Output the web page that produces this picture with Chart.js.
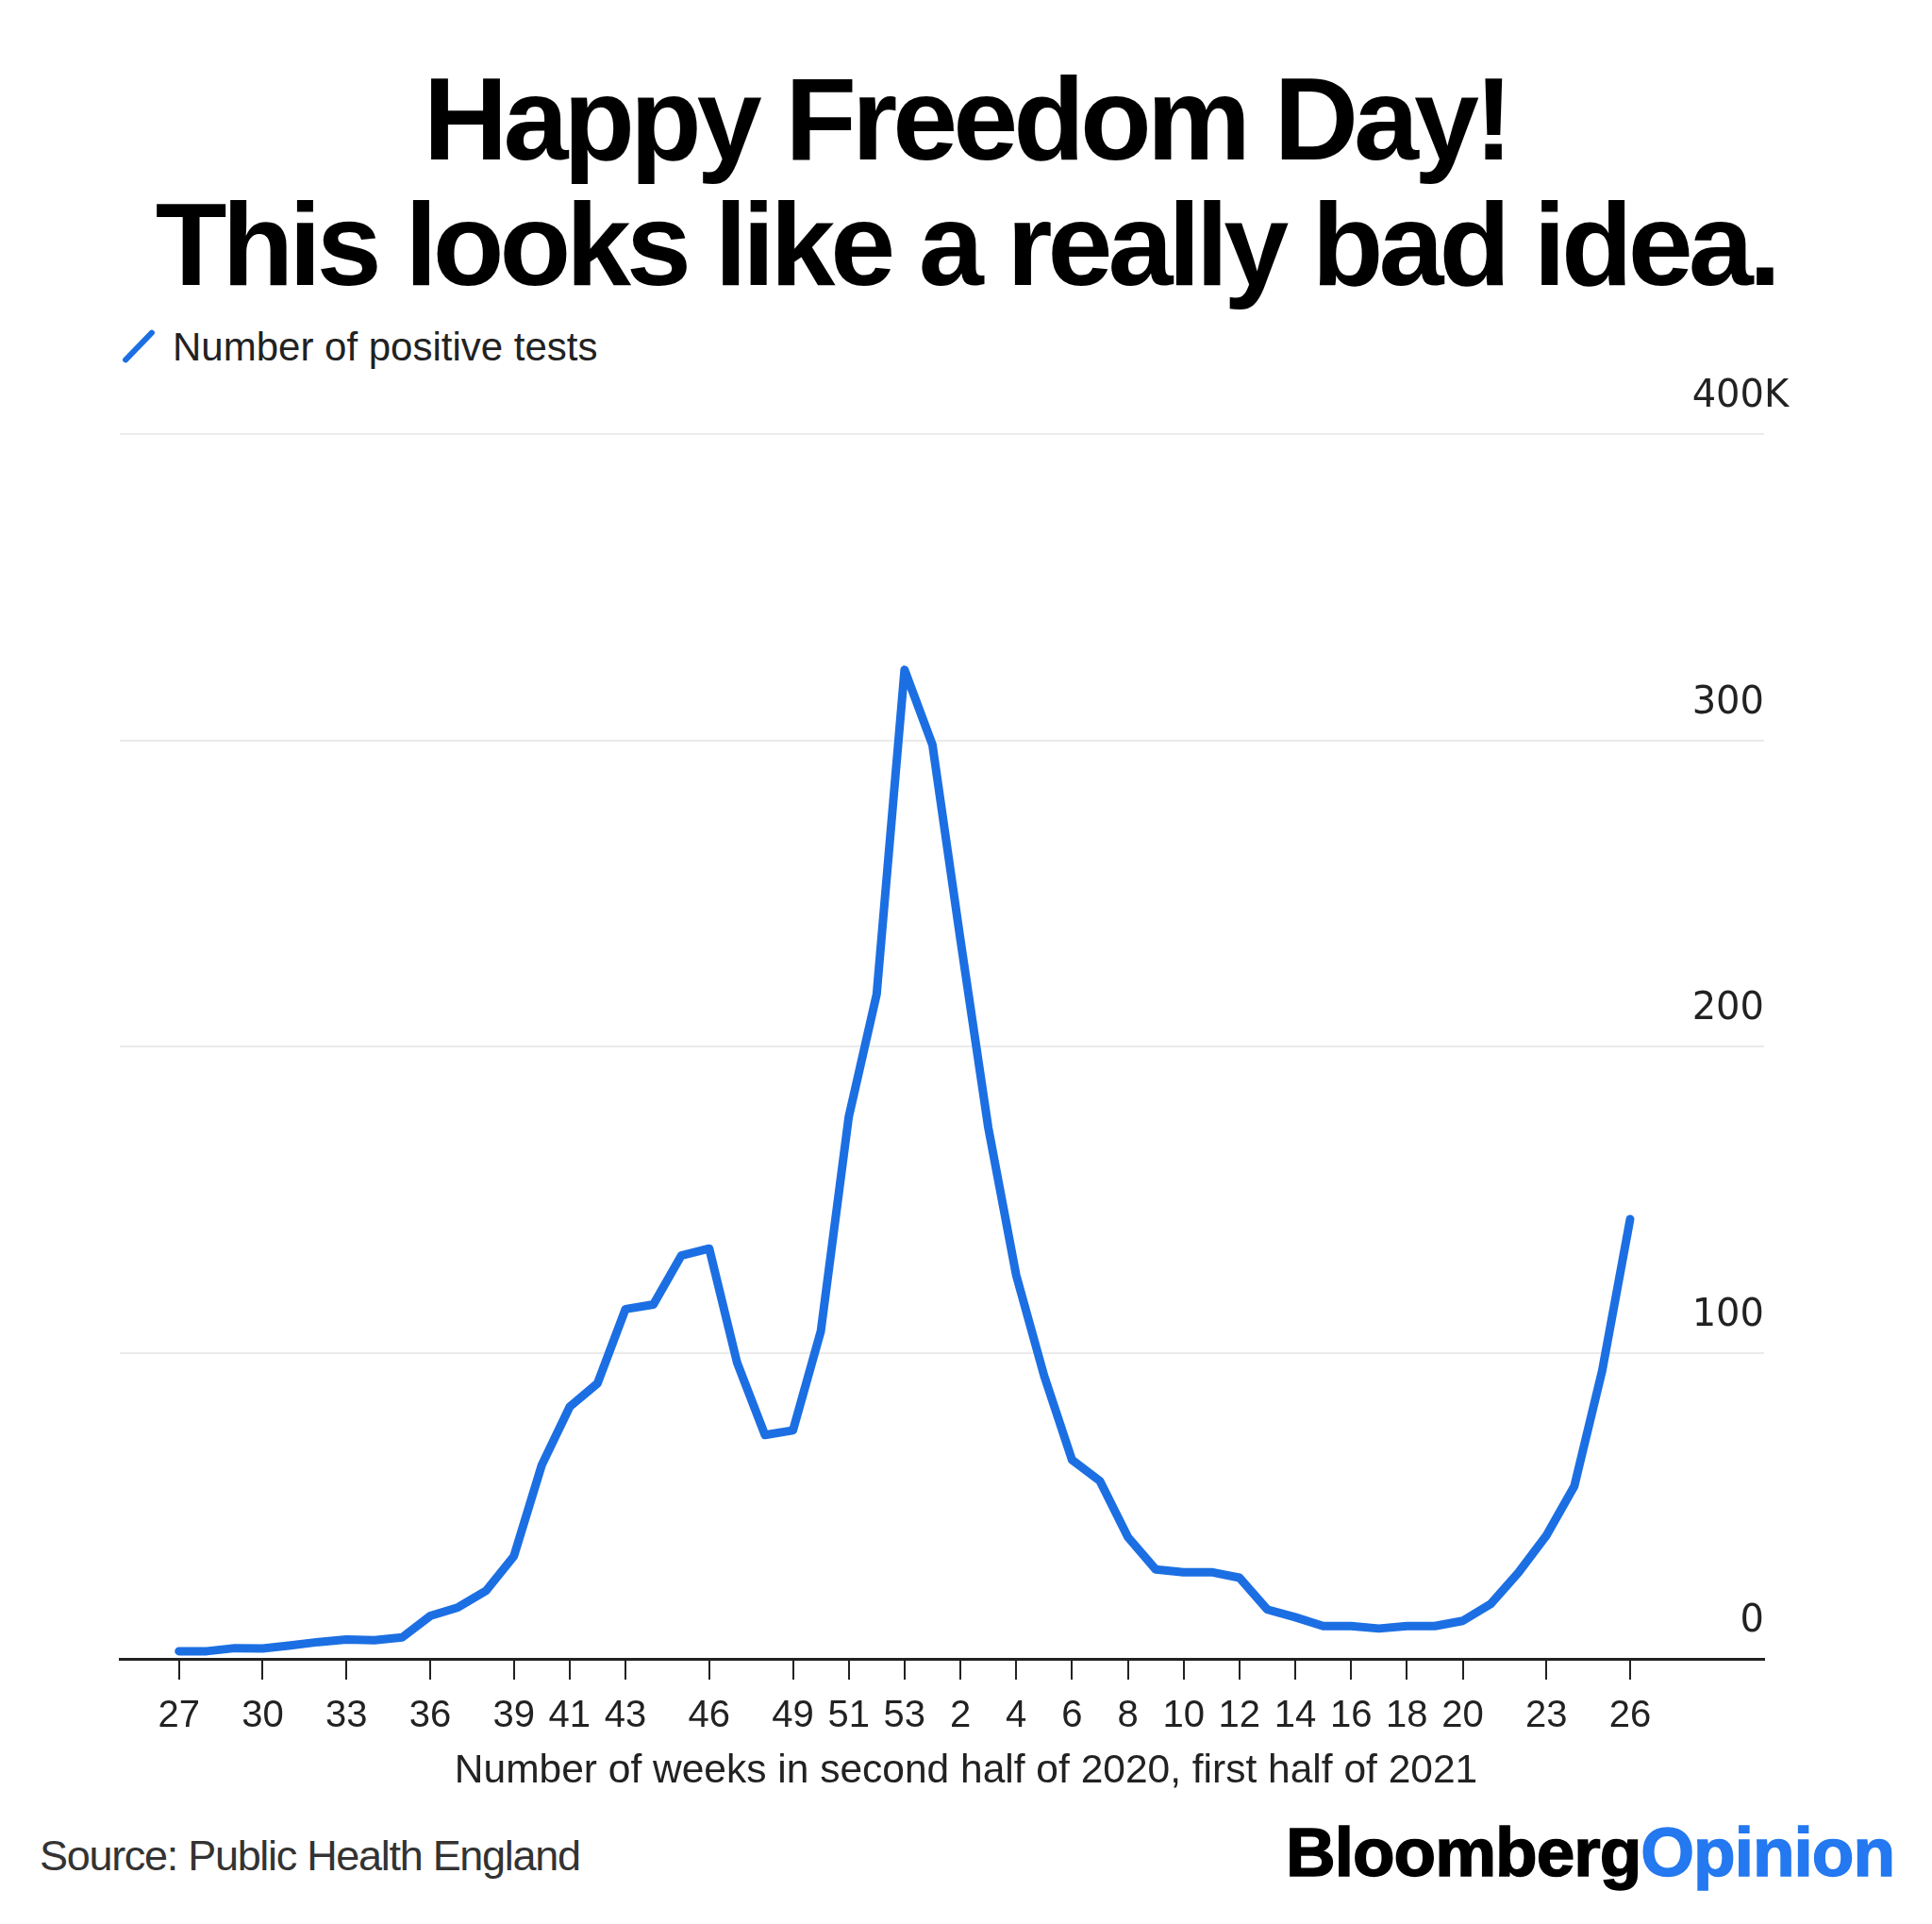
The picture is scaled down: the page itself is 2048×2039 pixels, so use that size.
<!DOCTYPE html>
<html>
<head>
<meta charset="utf-8">
<title>Happy Freedom Day!</title>
<script src="https://cdn.jsdelivr.net/npm/chart.js@4.4.1/dist/chart.umd.min.js"></script>
<style>
  html, body { margin: 0; padding: 0; background: #fff; }
  body {
    width: 2048px; height: 2039px; position: relative; overflow: hidden;
    font-family: "Liberation Sans", Arial, sans-serif; color: #222;
  }
  .headline {
    position: absolute; left: 0; top: 60px; width: 2048px;
    text-align: center; font-weight: 700; font-size: 124px; line-height: 133px;
    letter-spacing: -5px; color: #000;
  }
  .legend-mark {
    position: absolute; left: 144px; top: 344px; width: 6px; height: 46px;
    border-radius: 3px; background: #1c6fe3; transform: rotate(44deg);
  }
  .legend-text {
    position: absolute; left: 183px; top: 344px; font-size: 42px; line-height: 48px;
    color: #222; white-space: nowrap;
  }
  #chart-box { position: absolute; left: 0; top: 380px; width: 2048px; height: 1550px; }
  .axis-title {
    position: absolute; left: 0; top: 1850px; width: 2048px; text-align: center;
    font-size: 42.5px; line-height: 50px; color: #222; white-space: nowrap;
  }
  .source {
    position: absolute; left: 42px; top: 1941px; font-size: 45px; line-height: 52px;
    letter-spacing: -1.3px; color: #333; white-space: nowrap;
  }
  .logo {
    position: absolute; right: 40px; top: 1923px; font-size: 73px; line-height: 80px;
    font-weight: 700; letter-spacing: -1px; color: #000; white-space: nowrap;
    -webkit-text-stroke: 1.5px #000;
  }
  .logo span { color: #2478f0; -webkit-text-stroke: 1.5px #2478f0; }
</style>
</head>
<body>
  <div class="headline">Happy Freedom Day!<br>This looks like a really bad idea.</div>
  <div class="legend-mark"></div>
  <div class="legend-text">Number of positive tests</div>
  <div id="chart-box"><canvas id="chart"></canvas></div>
  <div class="axis-title">Number of weeks in second half of 2020, first half of 2021</div>
  <div class="source">Source: Public Health England</div>
  <div class="logo">Bloomberg<span>Opinion</span></div>

<script>
// weeks 27-53 of 2020, then weeks 1-26 of 2021
const weeks = [
  27, 28, 29, 30, 31, 32, 33, 34, 35, 36, 37, 38, 39, 40, 41, 42, 43, 44, 45, 46,
  47, 48, 49, 50, 51, 52, 53,
  1, 2, 3, 4, 5, 6, 7, 8, 9, 10, 11, 12, 13, 14, 15, 16, 17, 18, 19, 20, 21, 22,
  23, 24, 25, 26
]

// weekly positive tests
const positiveTests = [
  2500, 2500, 3500, 3400, 4400, 5500, 6300, 6100, 7000, 14000, 16800, 22200, 33500,
  63300, 82300, 90000, 114200, 115700, 131700, 134000, 96700, 73100, 74600, 107000,
  177000, 217000, 323000,
  298500, 235000, 173500, 125300, 92500, 65000, 58100, 39800, 29200, 28300, 28300,
  26500, 16100, 13600, 10700, 10700, 9900, 10700, 10700, 12400, 17900, 28200, 40300,
  56400, 94200, 143600
]

// positions (in the weeks array) that get a tick and a label
const tickIndexes = [0, 3, 6, 9, 12, 14, 16, 19, 22, 24, 26, 28, 30, 32, 34, 36, 38, 40, 42, 44, 46, 49, 52]

const yMax = 400000
const yStep = 100000
const yLabelLift = -39
const lineColor = "#1c6fe3"

// draws the "K" after the top y label so the numbers stay aligned
const thousandSuffix = {
  id: "thousandSuffix",
  afterDraw(chart) {
    const y = chart.scales.y
    const ctx = chart.ctx
    ctx.save()
    ctx.font = "40px 'DejaVu Sans'"
    ctx.fillStyle = "#222"
    ctx.textAlign = "left"
    ctx.textBaseline = "middle"
    ctx.fillText("K", y.left, y.getPixelForValue(yMax) + yLabelLift)
    ctx.restore()
  }
}

new Chart(document.getElementById("chart"), {
  type: "line",
  data: {
    datasets: [{
      label: "Number of positive tests",
      data: positiveTests.map((v, i) => ({ x: i, y: v })),
      borderColor: lineColor,
      borderWidth: 9,
      borderJoinStyle: "round",
      borderCapStyle: "round",
      pointRadius: 0,
      tension: 0,
      fill: false
    }]
  },
  options: {
    responsive: true,
    maintainAspectRatio: false,
    devicePixelRatio: 1,
    animation: false,
    layout: { padding: { left: 127, right: 178, top: 80, bottom: 72 } },
    plugins: {
      legend: { display: false },
      tooltip: { enabled: false }
    },
    scales: {
      x: {
        type: "linear",
        min: -2.12,
        max: 56.8,
        afterBuildTicks: scale => {
          scale.ticks = tickIndexes.map(i => ({ value: i }))
        },
        grid: {
          drawOnChartArea: false,
          drawTicks: true,
          tickLength: 22,
          tickColor: "#222",
          lineWidth: 2
        },
        border: { display: true, color: "#222", width: 3 },
        ticks: {
          autoSkip: false,
          maxRotation: 0,
          padding: 15,
          color: "#222",
          font: { family: "Liberation Sans", size: 40 },
          callback: value => String(weeks[value])
        }
      },
      y: {
        position: "right",
        min: 0,
        max: yMax,
        grid: {
          color: "#ebebeb",
          lineWidth: 2,
          drawTicks: false
        },
        border: { display: false },
        ticks: {
          stepSize: yStep,
          mirror: true,
          padding: 0,
          labelOffset: yLabelLift,
          color: "#222",
          font: { family: "DejaVu Sans", size: 40 },
          callback: value => String(value / 1000)
        }
      }
    }
  },
  plugins: [thousandSuffix]
})
</script>
</body>
</html>
